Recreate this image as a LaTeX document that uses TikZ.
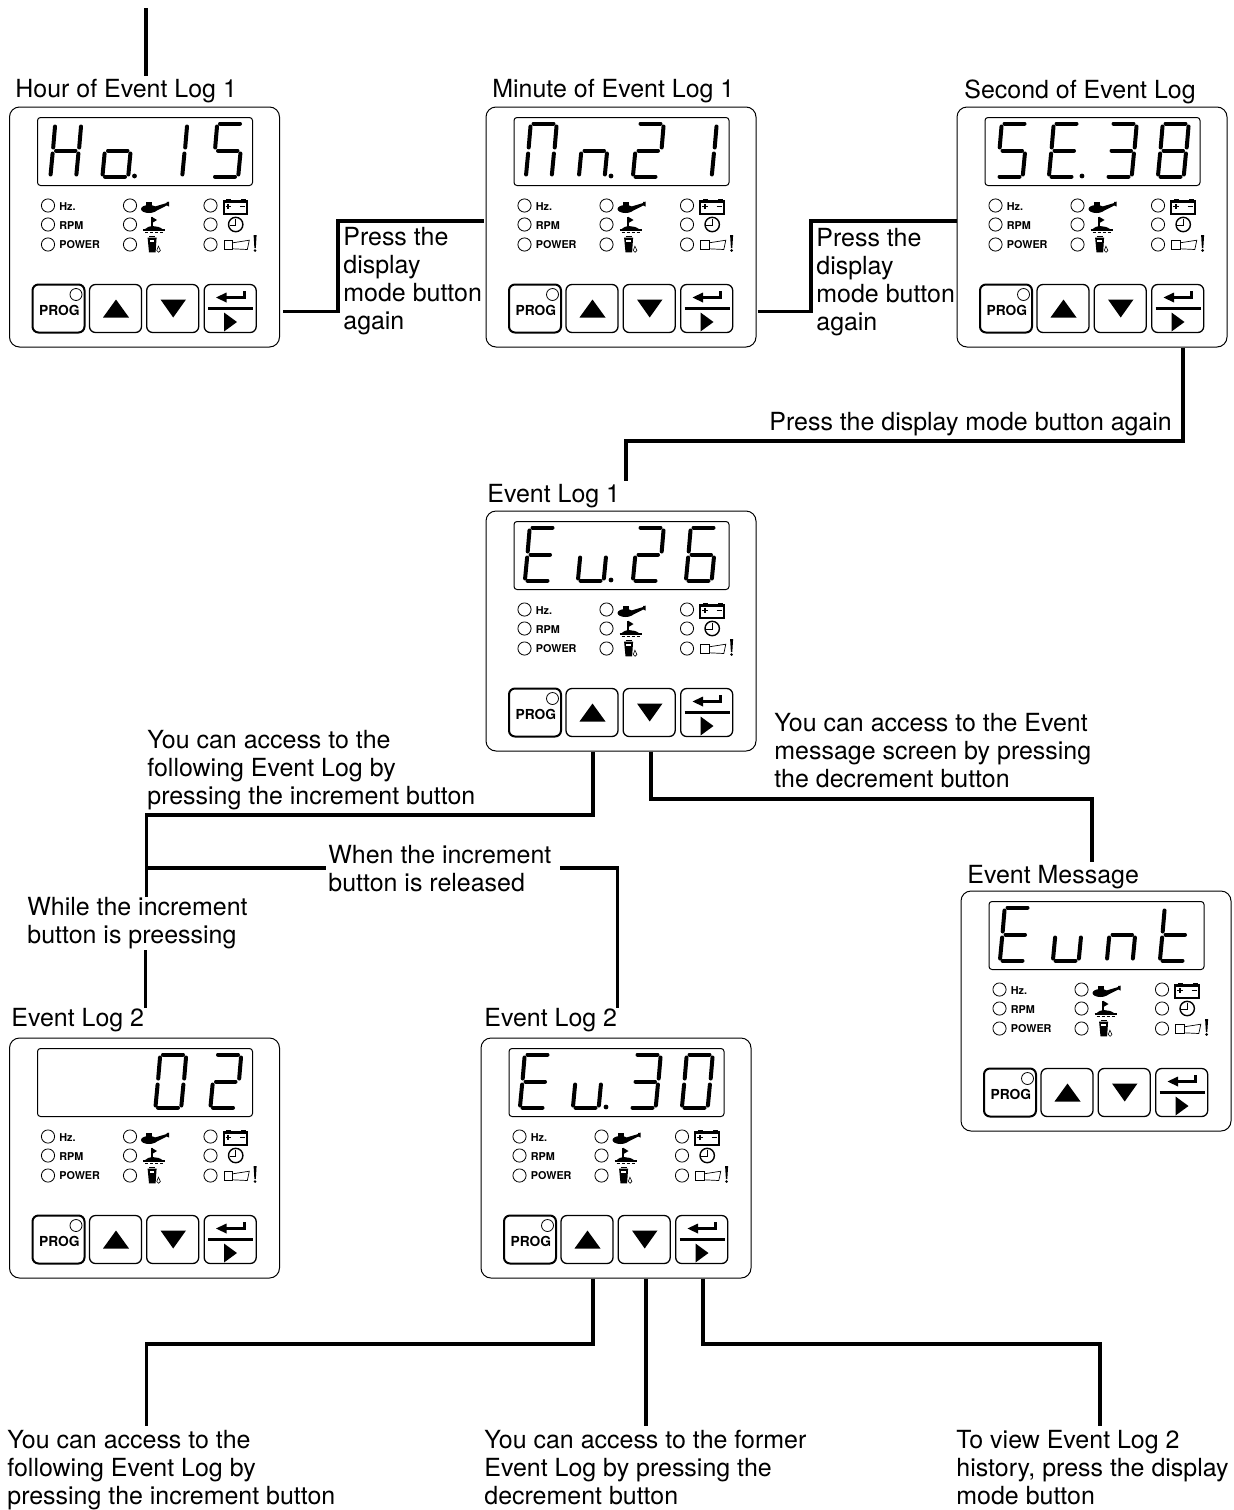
\documentclass[tikz,border=0pt]{standalone}
\usepackage{fontspec}
\setmainfont{TeX Gyre Heros}
\usetikzlibrary{positioning,calc}
\tikzset{
  body/.style={draw, rounded corners=5pt, line width=0.5pt, minimum width=135pt, minimum height=120pt, inner sep=0pt, anchor=north west},
  screen/.style={draw, rounded corners=1.5pt, line width=0.5pt, minimum width=107.5pt, minimum height=34pt, inner sep=0pt, anchor=north west},
  keybtn/.style={draw, rounded corners=3pt, line width=0.65pt, minimum width=26pt, minimum height=24pt, inner sep=0pt},
  progbtn/.style={keybtn, line width=1pt},
  progtxt/.style={inner sep=0pt, font=\fontsize{6.9}{8}\selectfont\bfseries},
  ledtxt/.style={anchor=west, inner sep=0pt, font=\fontsize{5.4}{6}\selectfont\bfseries},
  ledring/.style={draw, line width=0.4pt},
  segline/.style={line width=2pt, line cap=round},
  seg a/.style={insert path={(8,0)--(28,0)}},
  seg b/.style={insert path={(31,3)--(29.2,24)}},
  seg c/.style={insert path={(28.4,30)--(26.4,51)}},
  seg d/.style={insert path={(3,53)--(23,53)}},
  seg e/.style={insert path={(2.6,30)--(0.6,51)}},
  seg f/.style={insert path={(5,3)--(3.2,24)}},
  seg g/.style={insert path={(6,27)--(25.5,27)}},
  conn/.style={line width=1.6pt, line join=miter},
  lbl/.style={anchor=north west, inner sep=0pt, align=left, font=\fontsize{12.48}{14}\selectfont},
}
\def\glyphH{b,c,e,f,g}\def\glypho{c,d,e,g}\def\glyphone{b,c}\def\glyphfive{a,c,d,f,g}
\def\glyphM{a,b,c,e,f}\def\glyphn{c,e,g}\def\glyphtwo{a,b,d,e,g}\def\glyphE{a,d,e,f,g}
\def\glyphthree{a,b,c,d,g}\def\glypheight{a,b,c,d,e,f,g}\def\glyphu{c,d,e}
\def\glyphsix{a,c,d,e,f,g}\def\glypht{d,e,f,g}\def\glyphzero{a,b,c,d,e,f}
\newcommand{\panelicons}{
  \fill (140,102.5) ellipse (8 and 4);
  \fill (137.2,95.5) rectangle (143,100.5);
  \fill (146,100) -- (157.7,96.5) -- (157.7,95.5) -- (160,95.2) -- (160,100) -- (157.7,99) -- (146,105) -- cycle;
  \draw[line width=0.8pt] (142.7,110.3) -- (142.7,121);
  \fill (142.7,110.3) -- (148,113.5) -- (142.7,116.7) -- cycle;
  \fill (135.5,123) .. controls (139,118.5) and (149,118.5) .. (154,123) -- cycle;
  \draw[line width=0.9pt] (134,123.5) -- (156,123.5);
  \draw[line width=0.6pt, dash pattern=on 1.5pt off 1pt] (136,126) -- (154,126);
  \fill (138.6,131) -- (147.6,131) -- (146.6,145.8) -- (140,145.8) -- cycle;
  \fill[white] (140.6,133) rectangle (145.4,135.6);
  \draw[line width=0.8pt] (140,129.9) -- (146.4,129.9);
  \draw[line width=0.3pt] (149.4,139.7) -- (147.8,144) -- (149.6,145.8) -- (151.4,144) -- cycle;
  \draw[line width=1.1pt] (214.7,95) rectangle (238.3,107.2);
  \fill (214.2,93.8) rectangle (238.8,96.5);
  \fill (217,92) rectangle (222,95);
  \fill (232,92) rectangle (237,95);
  \draw[line width=0.9pt] (216.6,100) -- (222,100) (219.3,97.3) -- (219.3,102.7) (231,100) -- (236.2,100);
  \draw[line width=0.7pt] (226.7,118) circle (7.2);
  \draw[line width=0.7pt] (226.7,112) -- (226.7,119) -- (220.5,119);
  \draw[line width=0.35pt] (215,134) rectangle (223.7,143);
  \draw[line width=0.35pt] (223.7,136.3) -- (240.3,133.7) -- (238.3,143) -- (223.7,142.3);
  \fill (244.6,128.5) -- (247.6,128.5) -- (246.8,141.5) -- (245.4,141.5) -- cycle;
  \fill (246.1,144) circle (1.4);
}
\newcommand{\devpanel}[5]{
  \begin{scope}[shift={(#2,#3)}]
    \node[body] (#1) at (0,0) {};
    \node[screen] (#1-screen) at (28,10.5) {};
    \foreach \cx/\g in {#4} {
      \edef\seglist{\csname glyph\g\endcsname}
      \begin{scope}[shift={(\cx,17)}]
        \foreach \s in \seglist \draw[segline, seg \s];
      \end{scope}
    }
    \ifnum#5=1 \fill (125.5,69.5) circle (2.4); \fi
    \foreach \lx in {39,121,201.5} \foreach \ly in {99,118,138} \draw[ledring] (\lx,\ly) circle (6.6);
    \node[ledtxt] (#1-hz) at (50,100) {Hz.};
    \node[ledtxt] (#1-rpm) at (50,119) {RPM};
    \node[ledtxt] (#1-power) at (50,138.5) {POWER};
    \panelicons
    \node[progbtn] (#1-prog) at (49.5,202) {};
    \node[progtxt] (#1-progtxt) at (50.4,204) {PROG};
    \draw[ledring] (67,188) circle (6);
    \node[keybtn] (#1-up) at (106.5,202) {};
    \node[keybtn] (#1-down) at (163.7,202) {};
    \node[keybtn] (#1-enter) at (221.2,202) {};
    \fill (94,211) -- (107,193) -- (120,211) -- cycle;
    \fill (151.5,193) -- (177,193) -- (164.2,211) -- cycle;
    \draw[line width=1.5pt] (199,202) -- (244,202);
    \fill (207,191) -- (217.5,186) -- (217.5,196) -- cycle;
    \draw[line width=1.5pt] (216,191) -- (235,191) -- (235,184.7);
    \fill (215,206) -- (228,215.5) -- (215,225) -- cycle;
  \end{scope}
}
\begin{document}
\begin{tikzpicture}[x=0.5pt, y=-0.5pt]
\useasboundingbox (0,0) rectangle (1234,1510);
\devpanel{hourlog}{9}{106.5}{41/H, 93/o, 147/one, 203/five}{1}
\devpanel{minlog}{485.5}{106.5}{40/M, 93/n, 147/two, 200/one}{1}
\devpanel{seclog}{956.5}{106.5}{40/five, 92/E, 149/three, 201/eight}{1}
\devpanel{evtA}{485.5}{510.5}{39/E, 92/u, 147/two, 200/six}{1}
\devpanel{evtmsg}{960.5}{890.5}{39/E, 92/u, 146/n, 199/t}{0}
\devpanel{evtC}{9}{1037.5}{146/zero, 201/two}{0}
\devpanel{evtB}{480.5}{1037.5}{39/E, 92/u, 149/three, 201/zero}{1}
\node[lbl] (hourlbl) at (15,79) {Hour of Event Log 1};
\node[lbl] (minlbl) at (492,79) {Minute of Event Log 1};
\node[lbl] (seclbl) at (964,79) {Second of Event Log};
\node[lbl] (evtAlbl) at (487,484) {Event Log 1};
\node[lbl] (msglbl) at (967,865) {Event Message};
\node[lbl] (evtClbl) at (11,1008) {Event Log 2};
\node[lbl] (evtBlbl) at (484,1008) {Event Log 2};
\node[lbl] (pressA) at (343,227) {Press the\\display\\mode button\\again};
\node[lbl] (pressB) at (816,228) {Press the\\display\\mode button\\again};
\node[lbl] (pressC) at (769,411.5) {Press the display mode button again};
\node[lbl] (msgnote) at (774,713) {You can access to the Event\\message screen by pressing\\the decrement button};
\node[lbl] (incnote) at (147,730) {You can access to the\\following Event Log by\\pressing the increment button};
\node[lbl] (whenlbl) at (328,845) {When the increment\\button is released};
\node[lbl] (whilelbl) at (27,897) {While the increment\\button is preessing};
\node[lbl] (botA) at (7,1430) {You can access to the\\following Event Log by\\pressing the increment button};
\node[lbl] (botB) at (484,1430) {You can access to the former\\Event Log by pressing the\\decrement button};
\node[lbl] (botC) at (956,1430) {To view Event Log 2\\history, press the display\\mode button};
\coordinate (topin) at (146,8);
\coordinate (jctA) at (146.5,815);
\coordinate (jctB) at (146.5,868);
\coordinate (jctC) at (145.5,950);
\coordinate (midout) at ($(evtB.south west)+(165.5,0)$);
\draw[conn, shorten >=1.5pt] (topin) -- (topin |- hourlbl.north);
\draw[conn] ($(hourlog.south east)+(3,-36)$) -| (338,221) -- ($(minlog.north west)+(-2,114.5)$);
\draw[conn] ($(minlog.south east)+(1,-36)$) -| (811,221) -- ($(seclog.north west)+(0,114.5)$);
\draw[conn, shorten >=1.5pt] ($(seclog.south west)+(226.5,0)$) |- (626,441) -- (626,441 |- evtAlbl.north);
\draw[conn] ($(evtA.south west)+(107.5,0)$) |- (jctA) -- (jctA |- whilelbl.north);
\draw[conn] (jctB) -- (326,868);
\draw[conn] (560,868) -| (617.5,868 |- evtBlbl.north);
\draw[conn] (jctC) -- (jctC |- evtClbl.north);
\draw[conn, shorten >=1.5pt] ($(evtA.south west)+(165.5,0)$) |- (1092,799) -- (1092,799 |- msglbl.north);
\draw[conn, shorten >=2pt] ($(evtB.south west)+(112.5,0)$) |- (146.5,1344) -- (146.5,1344 |- botA.north);
\draw[conn, shorten >=2pt] (midout) -- (midout |- botB.north);
\draw[conn, shorten >=2pt] ($(evtB.south west)+(222.5,0)$) |- (1100,1344) -- (1100,1344 |- botC.north);
\end{tikzpicture}
\end{document}
